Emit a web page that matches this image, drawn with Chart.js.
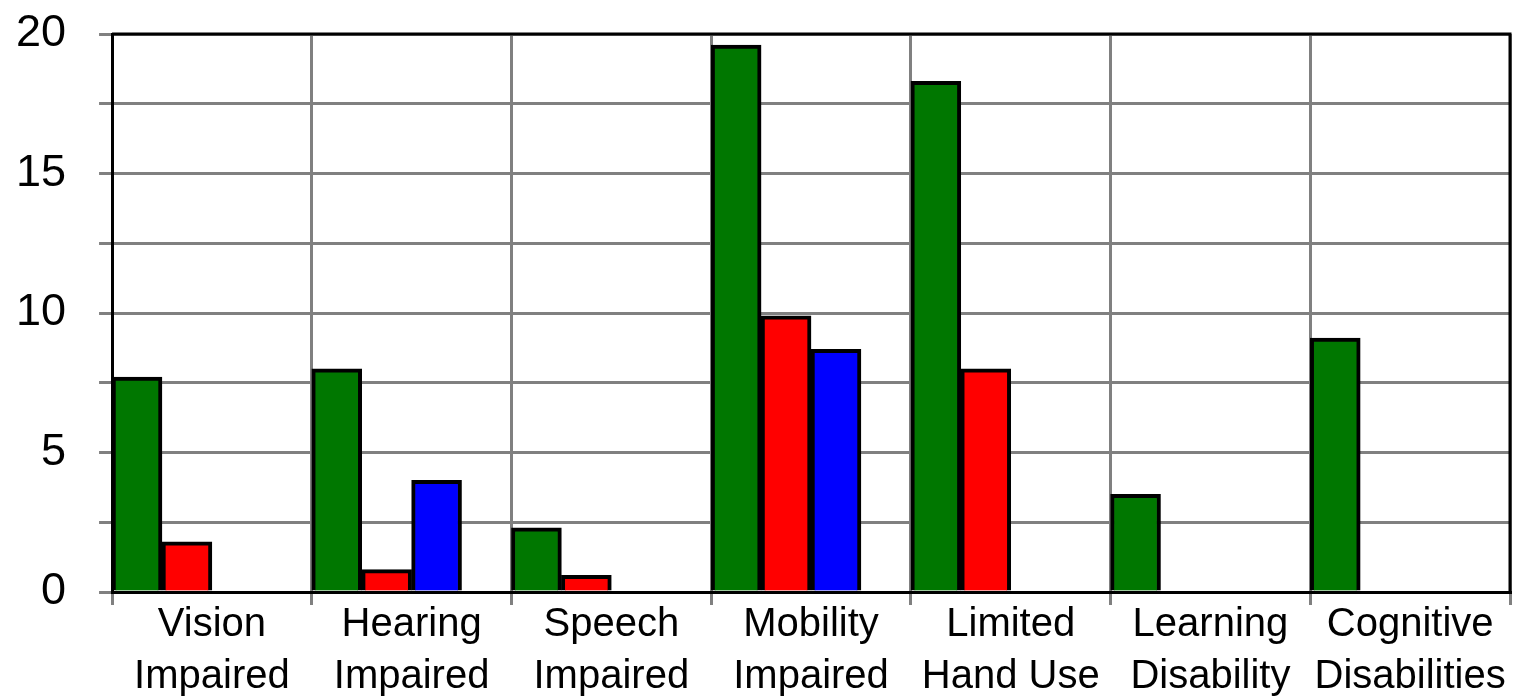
<!DOCTYPE html>
<html>
<head>
<meta charset="utf-8">
<script src="https://cdn.jsdelivr.net/npm/chart.js@4.4.1/dist/chart.umd.min.js"></script>
<style>
  html, body { margin: 0; padding: 0; background: #ffffff; }
  #wrap { width: 1518px; height: 699px; }
</style>
</head>
<body>
<div id="wrap"><canvas id="c" width="1518" height="699"></canvas></div>
<script>
const categories = [
  ["Vision", "Impaired"],
  ["Hearing", "Impaired"],
  ["Speech", "Impaired"],
  ["Mobility", "Impaired"],
  ["Limited", "Hand Use"],
  ["Learning", "Disability"],
  ["Cognitive", "Disabilities"]
];
const seriesGreen = [7.7, 8.0, 2.3, 19.6, 18.3, 3.5, 9.1];
const seriesRed   = [1.8, 0.8, 0.6, 9.9, 8.0, null, null];
const seriesBlue  = [null, 4.0, null, 8.7, null, null, null];
const seriesEmpty = [null, null, null, null, null, null, null];
const yTickLabels = [0, 5, 10, 15, 20];

const frame = {
  id: 'frame',
  afterDatasetsDraw(chart) {
    const a = chart.chartArea, ctx = chart.ctx;
    ctx.save();
    ctx.strokeStyle = '#000';
    ctx.lineWidth = 3;
    ctx.beginPath();
    ctx.moveTo(a.left, a.top);
    ctx.lineTo(a.right, a.top);
    ctx.lineTo(a.right, a.bottom);
    ctx.stroke();
    ctx.restore();
  }
};

new Chart(document.getElementById('c'), {
  type: 'bar',
  data: {
    labels: categories,
    datasets: [
      { data: seriesGreen, backgroundColor: '#007700' },
      { data: seriesRed, backgroundColor: '#ff0000' },
      { data: seriesBlue, backgroundColor: '#0000ff' },
      { data: seriesEmpty, backgroundColor: '#ffffff' }
    ]
  },
  options: {
    responsive: false,
    animation: false,
    devicePixelRatio: 1,
    layout: { padding: { left: -17, right: 8, top: 34, bottom: 2 } },
    datasets: {
      bar: {
        categoryPercentage: 1.0,
        barPercentage: 1.0,
        borderColor: '#000000',
        borderWidth: 4,
        borderSkipped: 'start'
      }
    },
    plugins: {
      legend: { display: false },
      tooltip: { enabled: false }
    },
    scales: {
      x: {
        grid: {
          offset: true,
          color: '#808080',
          lineWidth: 3,
          tickLength: 13,
          drawOnChartArea: true
        },
        border: { display: true, color: '#000000', width: 3 },
        ticks: {
          color: '#000000',
          font: { family: 'Liberation Sans, Arial, sans-serif', size: 40, lineHeight: 1.3 },
          padding: -6,
          maxRotation: 0,
          autoSkip: false
        }
      },
      y: {
        min: 0,
        max: 20,
        afterFit: function (scale) { scale.paddingTop = 0; scale.paddingBottom = 0; },
        grid: {
          color: '#808080',
          lineWidth: 3,
          tickLength: 13
        },
        border: { display: true, color: '#000000', width: 3 },
        ticks: {
          stepSize: 2.5,
          padding: 33,
          color: '#000000',
          font: { family: 'Liberation Sans, Arial, sans-serif', size: 45 },
          callback: function (v) { return yTickLabels.includes(v) ? String(v) : ''; }
        }
      }
    }
  },
  plugins: [frame]
});
</script>
</body>
</html>
